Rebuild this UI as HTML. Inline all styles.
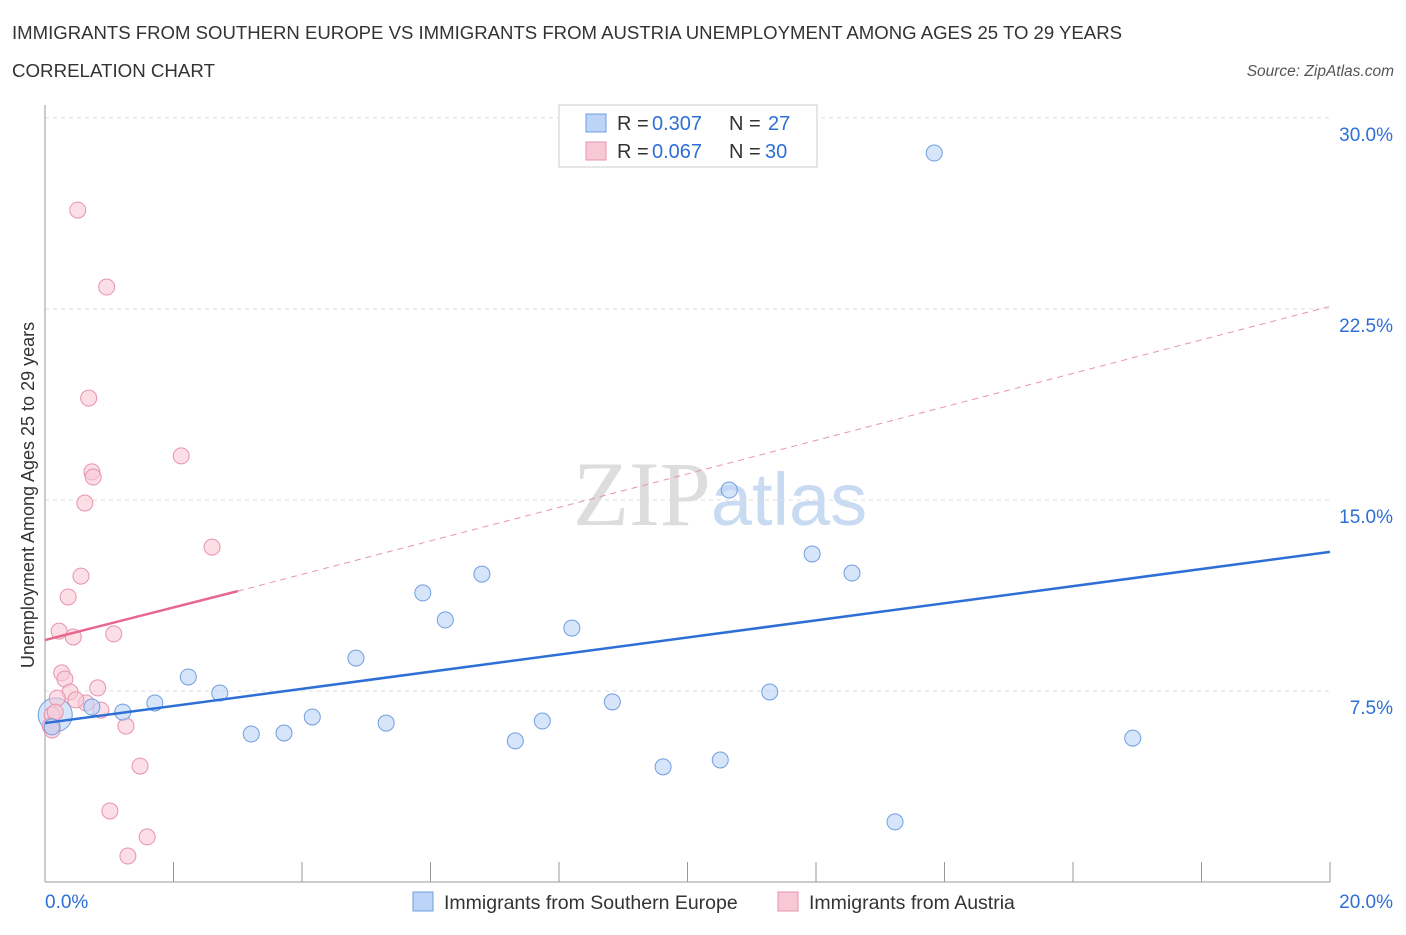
<!DOCTYPE html>
<html><head><meta charset="utf-8"><style>
body{margin:0;background:#fff;font-family:"Liberation Sans",sans-serif;}
</style></head><body>
<svg width="1406" height="930" xmlns="http://www.w3.org/2000/svg" font-family="Liberation Sans, sans-serif">
<text x="12" y="39" font-size="18" fill="#333" textLength="1110" lengthAdjust="spacingAndGlyphs">IMMIGRANTS FROM SOUTHERN EUROPE VS IMMIGRANTS FROM AUSTRIA UNEMPLOYMENT AMONG AGES 25 TO 29 YEARS</text>
<text x="12" y="77" font-size="18" fill="#333" textLength="203" lengthAdjust="spacingAndGlyphs">CORRELATION CHART</text>
<text x="1394" y="76" font-size="15.5" fill="#555" text-anchor="end" font-style="italic">Source: ZipAtlas.com</text>
<text x="720" y="525" font-size="92" text-anchor="middle"><tspan fill="#ddd" font-family="Liberation Serif, serif">ZIP</tspan><tspan fill="#c9dbf2" font-size="74">atlas</tspan></text>
<g id="grid"></g>
<g id="axes"></g>
<g id="marks"></g>
<text transform="translate(34,495) rotate(-90)" font-size="18" fill="#333" text-anchor="middle">Unemployment Among Ages 25 to 29 years</text>
<g font-size="20">
<rect x="559" y="105" width="258" height="62" fill="#fff" stroke="#ccc"/>
<rect x="586" y="114" width="20" height="18" fill="#bcd4f7" stroke="#6f9ee0"/>
<rect x="586" y="142" width="20" height="18" fill="#f9c8d6" stroke="#e893ad"/>
<text x="617" y="130" fill="#333">R =</text><text x="652" y="130" fill="#2d6fd6">0.307</text>
<text x="729" y="130" fill="#333">N =</text><text x="768" y="130" fill="#2d6fd6">27</text>
<text x="617" y="158" fill="#333">R =</text><text x="652" y="158" fill="#2d6fd6">0.067</text>
<text x="729" y="158" fill="#333">N =</text><text x="765" y="158" fill="#2d6fd6">30</text>
</g>
<g>
<rect x="413" y="892" width="20" height="19" fill="#bcd4f7" stroke="#6f9ee0"/>
<text x="444" y="909" font-size="19.5" fill="#333">Immigrants from Southern Europe</text>
<rect x="778" y="892" width="20" height="19" fill="#f9c8d6" stroke="#e893ad"/>
<text x="809" y="909" font-size="19.5" fill="#333">Immigrants from Austria</text>
</g>
</svg>
<script>
const blueX=[0.16,0.11,0.73,1.21,1.71,2.23,2.72,3.21,3.72,4.16,4.84,5.31,5.88,6.23,6.80,7.32,7.74,8.20,8.83,9.62,10.51,10.65,11.28,11.94,12.56,13.23,13.84,16.93];
const blueY=[6.56,6.09,6.87,6.67,7.03,8.05,7.42,5.81,5.85,6.48,8.79,6.24,11.35,10.29,12.09,5.54,6.32,9.97,7.07,4.52,4.79,15.39,7.46,12.88,12.13,2.36,28.62,5.65];
const pinkX=[0.51,0.96,0.68,2.12,0.73,0.75,0.62,2.60,0.56,0.36,0.22,0.44,1.07,0.26,0.31,0.39,0.82,0.19,0.64,0.48,0.87,0.11,0.16,0.08,0.11,1.26,1.48,1.01,1.59,1.29];
const pinkY=[26.38,23.36,19.00,16.73,16.10,15.90,14.88,13.15,12.01,11.19,9.85,9.62,9.74,8.21,7.97,7.46,7.62,7.22,7.03,7.15,6.75,6.56,6.67,6.12,5.97,6.12,4.55,2.79,1.77,1.02];
const yTicks=[7.5,15,22.5,30];
const yTickLabels=["7.5%","15.0%","22.5%","30.0%"];
const blueTrend=[[0,6.24],[20,12.96]];
const pinkTrendSolid=[[0,9.5],[3.0,11.42]];
const pinkTrendDash=[[3.0,11.42],[20,22.6]];
const NS="http://www.w3.org/2000/svg";
const xs=v=>45+v/20*1285, ys=v=>882-v*25.47;
function mk(parent,tag,attrs){const e=document.createElementNS(NS,tag);for(const k in attrs)e.setAttribute(k,attrs[k]);document.getElementById(parent).appendChild(e);return e;}
yTicks.forEach((t,i)=>{
 const g=mk('grid','line',{x1:45,x2:1330,y1:ys(t),y2:ys(t),stroke:'#ddd','stroke-dasharray':'4,4'});
 
 
 const l=mk('axes','text',{x:1393,y:ys(t)+23,'font-size':19,fill:'#2d6fd6','text-anchor':'end'});
 l.textContent=yTickLabels[i];
 
 
});
const ya=mk('axes','line',{x1:45,x2:45,y1:105,y2:882,stroke:'#999'});


const xa=mk('axes','line',{x1:45,x2:1330,y1:882,y2:882,stroke:'#999'});


for(let i=0;i<=10;i++){const t=mk('axes','line',{x1:xs(i*2),x2:xs(i*2),y1:862,y2:882,stroke:'#999'});
 
 }
[[0,"0.0%",45,'start'],[20,"20.0%",1393,'end']].forEach(d=>{const l=mk('axes','text',{x:d[2],y:908,'font-size':19,fill:'#2d6fd6','text-anchor':d[3]});l.textContent=d[1];
 
 });
const b0=mk('marks','circle',{cx:xs(blueX[0]),cy:ys(blueY[0]),r:17,fill:'#bcd4f7','fill-opacity':0.6,stroke:'#6f9ee0'});


pinkX.forEach((x,i)=>{const c=mk('marks','circle',{cx:xs(x),cy:ys(pinkY[i]),r:8,fill:'#f9c8d6','fill-opacity':0.6,stroke:'#e893ad'});
 
 });
blueX.forEach((x,i)=>{if(i===0)return;const c=mk('marks','circle',{cx:xs(x),cy:ys(blueY[i]),r:8,fill:'#bcd4f7','fill-opacity':0.6,stroke:'#6f9ee0'});
 
 });
function tl(p,color,w,dash,name){const a={x1:xs(p[0][0]),y1:ys(p[0][1]),x2:xs(p[1][0]),y2:ys(p[1][1]),stroke:color,'stroke-width':w};if(dash)a['stroke-dasharray']=dash;const l=mk('marks','line',a);
 
 }
tl(pinkTrendDash,'#e893ad',1,'6,5','pink-trend-extension');
tl(blueTrend,'#2d6fd6',2.5,null,'blue-trend-line');
tl(pinkTrendSolid,'#e8678f',2.5,null,'pink-trend-line');
</script>
</body></html>
